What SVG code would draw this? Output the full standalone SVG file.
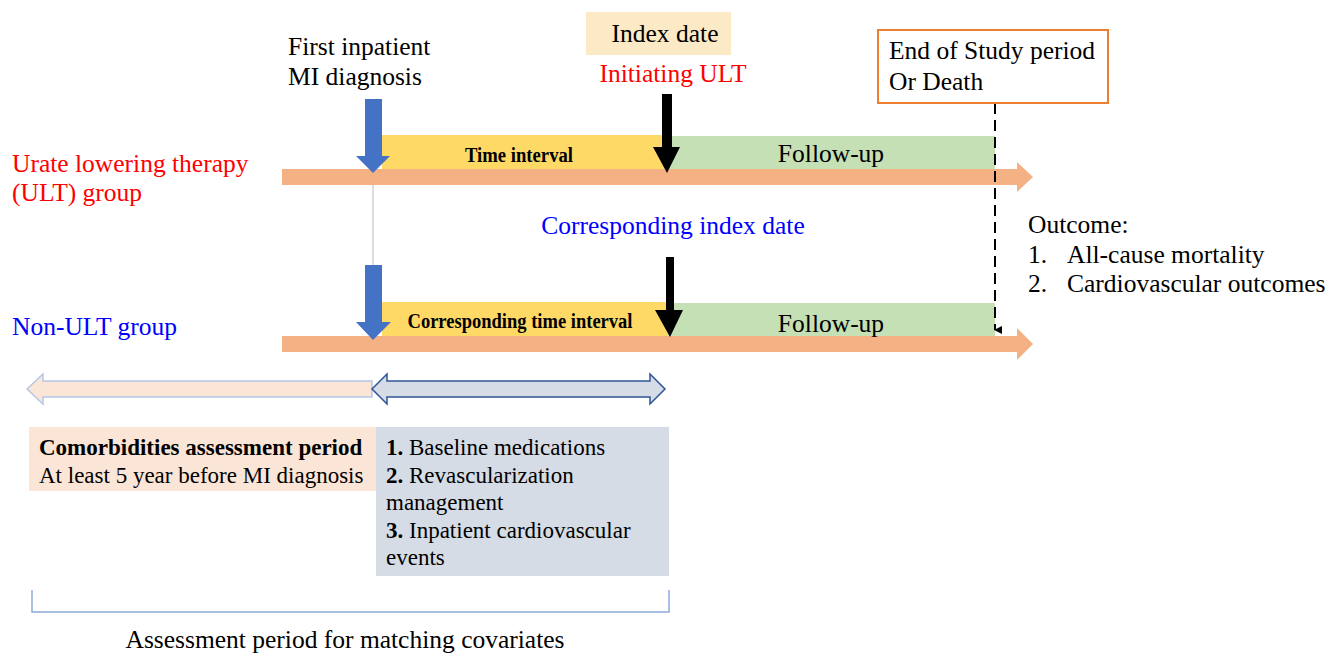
<svg xmlns="http://www.w3.org/2000/svg" width="1329" height="655" viewBox="0 0 1329 655">
<defs>
<style>
text{font-family:"Liberation Serif","Times New Roman",serif;fill:#000;}
.t25{font-size:25.5px;}
.t23{font-size:23px;}
.b{font-weight:bold;}
.red{fill:#FF0000;}
.blue{fill:#0000FF;}
.bar{fill:#F4B183;}
.yel{fill:#FFD966;}
.grn{fill:#C5E0B4;}
.barrow{fill:#4472C4;}
.karrow{fill:#000;}
</style>
<marker id="dashHead" markerWidth="8" markerHeight="8" refX="4" refY="7" orient="auto" markerUnits="userSpaceOnUse" viewBox="0 0 8 8">
<path d="M0,0 L8,0 L4,8 Z" fill="#000"/>
</marker>
</defs>
<rect width="1329" height="655" fill="#fff"/>

<g id="timeline-ult">
<rect class="yel" x="382" y="135" width="285" height="34"/>
<rect class="grn" x="667" y="136" width="328" height="33"/>
<polygon class="bar" points="282,169 1017,169 1017,162 1033,177 1017,192 1017,185 282,185"/>
<text class="b" x="519" y="162" font-size="20" text-anchor="middle" textLength="108" lengthAdjust="spacingAndGlyphs">Time interval</text>
<text class="t25" x="831" y="162" text-anchor="middle">Follow-up</text>
</g>

<g id="timeline-nonult">
<rect class="yel" x="382" y="302" width="286" height="34"/>
<rect class="grn" x="668" y="303" width="327" height="33"/>
<polygon class="bar" points="282,336 1017,336 1017,328 1033,344 1017,360 1017,352 282,352"/>
<text class="b" x="520" y="328" font-size="20" text-anchor="middle" textLength="225" lengthAdjust="spacingAndGlyphs">Corresponding time interval</text>
<text class="t25" x="831" y="332" text-anchor="middle">Follow-up</text>
</g>

<g id="connectors">
<line x1="373" y1="185" x2="373" y2="265" stroke="#D0D0D0" stroke-width="1.5"/>
<polygon class="barrow" points="365,99 382,99 382,156 390,156 373,173 356,156 365,156"/>
<polygon class="karrow" points="662,94 672,94 672,147 680,147 667,173 653,147 662,147"/>
<polygon class="barrow" points="365,265 382,265 382,322 391,322 373,340 356,322 365,322"/>
<polygon class="karrow" points="666,257 674,257 674,310 683,310 670,337 655,310 666,310"/>
<line x1="995" y1="103" x2="995" y2="330" stroke="#000" stroke-width="2" stroke-dasharray="11,6" marker-end="url(#dashHead)"/>
</g>

<g id="label-first-mi">
<text class="t25" x="288" y="55">First inpatient</text>
<text class="t25" x="288" y="85">MI diagnosis</text>
</g>

<g id="label-ult-group">
<text class="t25 red" x="12" y="172">Urate lowering therapy</text>
<text class="t25 red" x="12" y="201">(ULT) group</text>
</g>

<g id="label-nonult-group">
<text class="t25 blue" x="12" y="335">Non-ULT group</text>
</g>

<g id="index-date">
<rect x="586" y="12" width="145" height="43" fill="#FCE9C5"/>
<text class="t25" x="665" y="42" text-anchor="middle">Index date</text>
<text class="t25 red" x="673" y="82" text-anchor="middle">Initiating ULT</text>
</g>

<g id="end-of-study">
<rect x="878" y="30" width="230" height="73" fill="#fff" stroke="#ED7D31" stroke-width="2"/>
<text class="t25" x="889" y="59">End of Study period</text>
<text class="t25" x="889" y="90">Or Death</text>
</g>

<g id="corresponding-index">
<text class="t25 blue" x="673" y="234" text-anchor="middle">Corresponding index date</text>
</g>

<g id="outcome">
<text class="t25" x="1028" y="233">Outcome:</text>
<text class="t25" x="1028" y="263">1.</text>
<text class="t25" x="1067" y="263">All-cause mortality</text>
<text class="t25" x="1028" y="292">2.</text>
<text class="t25" x="1067" y="292">Cardiovascular outcomes</text>
</g>

<g id="comorbidity-arrow">
<polygon points="27,389 43,374 43,381 372,381 372,397 43,397 43,404" fill="#FBE5D6" stroke="#B4C7E7" stroke-width="1.5"/>
</g>

<g id="baseline-arrow">
<polygon points="372,389 387,374 387,381 650,381 650,374 665,389 650,404 650,397 387,397 387,404" fill="#D6DCE5" stroke="#2F5597" stroke-width="1.5"/>
</g>

<g id="comorbidity-box">
<rect x="29" y="427" width="347" height="64" fill="#FBE5D6"/>
<text class="t23 b" x="39" y="455">Comorbidities assessment period</text>
<text class="t23" x="39" y="483">At least 5 year before MI diagnosis</text>
</g>

<g id="baseline-box">
<rect x="376" y="427" width="293" height="149" fill="#D6DCE5"/>
<text class="t23" x="386" y="455"><tspan class="b">1.</tspan> Baseline medications</text>
<text class="t23" x="386" y="483"><tspan class="b">2.</tspan> Revascularization</text>
<text class="t23" x="386" y="510">management</text>
<text class="t23" x="386" y="538"><tspan class="b">3.</tspan> Inpatient cardiovascular</text>
<text class="t23" x="386" y="565">events</text>
</g>

<g id="matching-bracket">
<polyline points="32,590 32,612 669,612 669,590" fill="none" stroke="#8FAADC" stroke-width="1.5"/>
<text class="t25" x="345" y="648" text-anchor="middle">Assessment period for matching covariates</text>
</g>
</svg>
